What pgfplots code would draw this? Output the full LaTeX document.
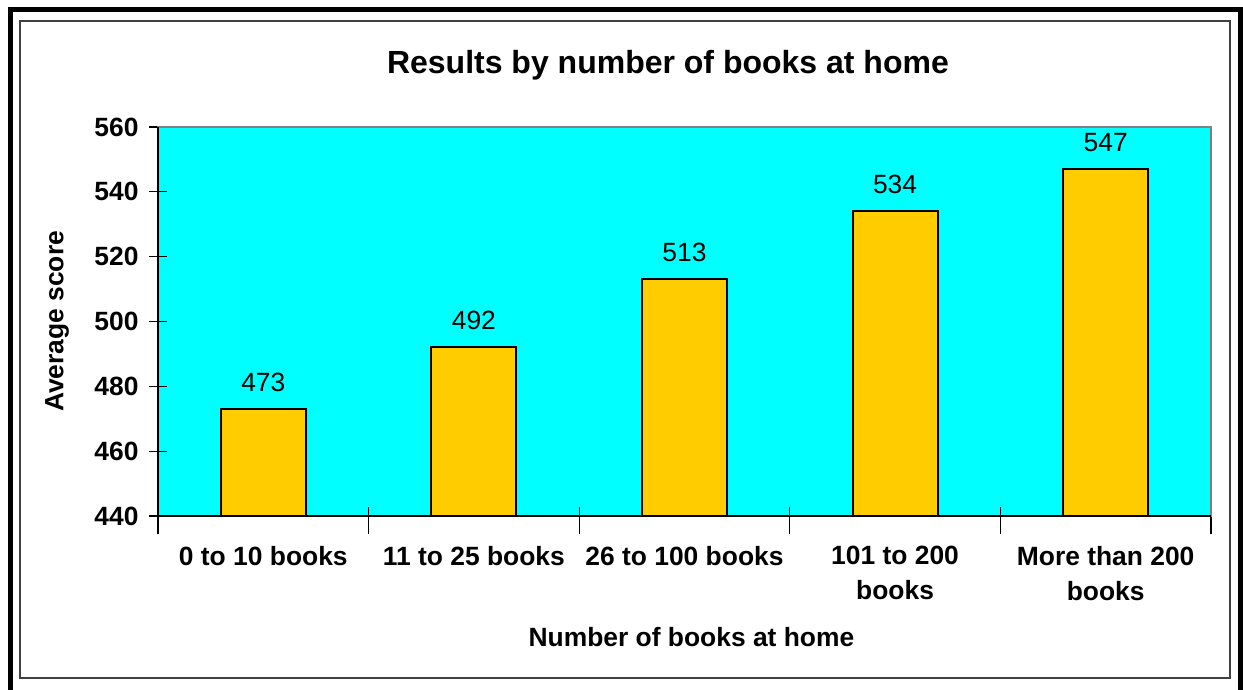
\documentclass[border=0pt]{standalone}
\usepackage{fontspec}
\setmainfont{Liberation Sans}
\usepackage{pgfplots}
\pgfplotsset{compat=1.18}
\definecolor{plotbg}{HTML}{00FFFF}
\definecolor{bargold}{HTML}{FFCC00}
\begin{document}
\begin{tikzpicture}
\begin{axis}[
 name=main,
 at={(158bp,174bp)}, anchor=south west,
 scale only axis, width=1053bp, height=389bp,
 xmin=-0.5, xmax=4.5, ymin=440, ymax=560,
 ytick={440,460,...,560},
 xtick={-0.5,0.5,...,4.5}, xticklabels={},
 extra x ticks={0,1,2,3,4},
 extra x tick labels={0 to 10 books, 11 to 25 books, 26 to 100 books, {101 to 200\\books}, {More than 200\\books}},
 extra x tick style={major tick length=0pt},
 axis on top,
 xtick pos=bottom, ytick pos=left,
 tick align=center,
 major tick length=18bp,
 every tick/.style={black, line width=1.2bp},
 axis line style={draw=gray, line width=2bp},
 axis background/.style={fill=plotbg},
 ybar, bar width=85bp,
 /pgf/number format/assume math mode=true,
 ticklabel style={font=\fontsize{26.4bp}{35bp}\selectfont\bfseries},
 xticklabel style={align=center, yshift=-27bp},
 yticklabel style={xshift=-7bp},
 nodes near coords,
 nodes near coords style={font=\fontsize{26.4bp}{30bp}\selectfont, yshift=13bp, black},
 title={Results by number of books at home},
 title style={at={(axis description cs:0.4843,1.144)}, anchor=center, font=\fontsize{32bp}{38bp}\selectfont\bfseries},
 xlabel={Number of books at home}, ylabel={Average score},
 every axis x label/.style={at={(axis description cs:0.5066,-0.311)}, anchor=center, font=\fontsize{26.4bp}{32bp}\selectfont\bfseries},
 every axis y label/.style={at={(axis description cs:-0.0959,0.5)}, anchor=center, rotate=90, font=\fontsize{26.4bp}{32bp}\selectfont\bfseries},
]
\addplot[fill=bargold, draw=black, line width=2bp] coordinates {(0,473) (1,492) (2,513) (3,534) (4,547)};
\pgfplotsinvokeforeach{440,460,480,500,520,540,560}{
  \draw[black, line width=1.2bp] (axis cs:-0.5,#1) -- ++(9bp,0bp);
}
\pgfplotsinvokeforeach{-0.5,0.5,1.5,2.5,3.5,4.5}{
  \draw[black, line width=1.2bp] (axis cs:#1,440) -- ++(0bp,8.5bp);
}
\end{axis}
\draw[black, line width=2bp] (main.north west) -- (main.south west) -- (main.south east);
\draw[line width=5bp] (10bp,-10bp) rectangle (1240bp,680.5bp);
\draw[black!75, line width=1.5bp] (20bp,12bp) rectangle (1230bp,669bp);
\pgfresetboundingbox
\useasboundingbox (0,0) rectangle (1243bp,690bp);
\end{tikzpicture}
\end{document}
